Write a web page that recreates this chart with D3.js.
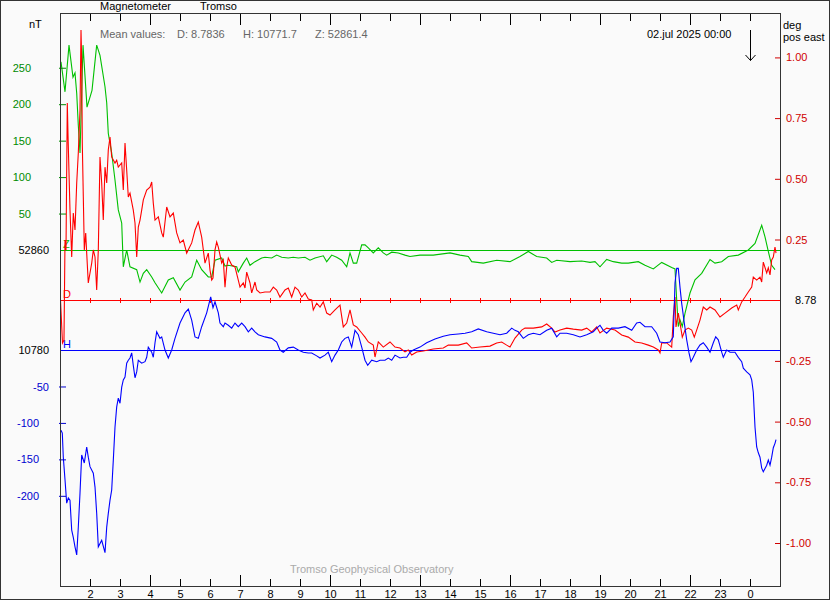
<!DOCTYPE html>
<html><head><meta charset="utf-8">
<script src="https://cdn.jsdelivr.net/npm/d3@7"></script>
<style>
body{margin:0;background:#fafafa;}
svg{display:block;}
text{font-family:"Liberation Sans",Arial,sans-serif;font-size:11px;}
</style></head><body>
<svg id="c" width="830" height="600"></svg>
<script>
// ---- data (time in hours since 01.jul 00:00, deviation from baseline) ----
const hourTicks = d3.range(2, 25);            // 2..24 (24 shown as 0)
const zBase = 52860, hBase = 10780, dBase = 8.78;
const zTicks = [50, 100, 150, 200, 250];
const hTicks = [-50, -100, -150, -200];
const dTicks = [1, 0.75, 0.5, 0.25, -0.25, -0.5, -0.75, -1];
const meanValues = ["D: 8.7836", "H: 10771.7", "Z: 52861.4"];

const zData = [[1.033,258],[1.167,217],[1.30,281],[1.433,237],[1.50,243],[1.557,215],[1.61,171],[1.667,133],[1.767,281],[1.90,196],[2.067,219],[2.223,281],[2.333,267],[2.5,224],[2.557,202],[2.61,160],[2.723,133],[2.833,96],[2.943,55],[3.057,37],[3.11,-23],[3.223,0],[3.333,-23],[3.557,-27],[3.667,-44],[3.777,-32],[3.89,-27],[4.057,-37],[4.167,-45],[4.39,-59],[4.61,-41],[4.777,-38],[5.0,-55],[5.167,-44],[5.39,-37],[5.557,-14],[5.723,-27],[5.943,-37],[6.057,-37],[6.167,-14],[6.39,-11],[6.5,-22],[6.6,-21],[6.89,-23],[6.943,-30],[7.11,-18],[7.223,-11],[7.333,-21],[7.5,-16],[7.723,-11],[7.833,-10],[8.057,-11],[8.223,-7],[8.39,-10],[8.61,-11],[8.777,-10],[8.943,-11],[9.167,-10],[9.333,-14],[9.5,-11],[9.777,-8],[9.89,-16],[10.057,-7],[10.223,-10],[10.39,-14],[10.557,-23],[10.667,-4],[10.777,-18],[10.89,-18],[11.057,7],[11.167,7],[11.277,3],[11.443,-4],[11.61,3],[11.777,-4],[11.89,-7],[12.057,-3],[12.277,-4],[12.5,-7],[12.667,-9],[13.0,-7],[13.443,-7],[14.0,-4],[14.333,-7],[14.61,-9],[14.723,-16],[15.11,-18],[15.557,-14],[16.0,-16],[16.333,-9],[16.61,-2],[16.89,-9],[17.223,-11],[17.39,-17],[17.557,-14],[18.0,-16],[18.39,-15],[18.667,-17],[18.833,-16],[19.0,-23],[19.223,-13],[19.443,-16],[19.723,-18],[19.943,-18],[20.277,-16],[20.5,-21],[20.777,-26],[21.057,-17],[21.39,-24],[21.5,-26],[21.557,-69],[21.61,-105],[21.667,-96],[21.743,-105],[21.833,-87],[22.0,-59],[22.167,-41],[22.39,-32],[22.667,-13],[22.833,-18],[23.057,-16],[23.277,-9],[23.61,-7],[23.943,0],[24.167,9],[24.39,34],[24.5,18],[24.61,-2],[24.723,-21],[24.833,-27]];

const dData = [[1.017,0.00],[1.083,-0.176],[1.133,-0.164],[1.167,0.248],[1.2,0.207],[1.243,0.812],[1.267,0.680],[1.333,0.372],[1.39,0.178],[1.443,0.359],[1.5,0.289],[1.557,0.483],[1.61,0.606],[1.667,0.783],[1.70,1.113],[1.723,0.989],[1.743,0.647],[1.777,0.425],[1.81,0.207],[1.857,0.277],[1.89,0.194],[1.943,0.071],[2.0,0.112],[2.057,0.153],[2.11,0.207],[2.167,0.178],[2.223,0.042],[2.277,0.207],[2.333,0.590],[2.39,0.483],[2.443,0.330],[2.5,0.548],[2.557,0.483],[2.61,0.619],[2.667,0.672],[2.723,0.590],[2.833,0.565],[2.89,0.577],[2.943,0.548],[3.057,0.565],[3.11,0.454],[3.167,0.647],[3.223,0.536],[3.277,0.425],[3.333,0.441],[3.443,0.371],[3.5,0.318],[3.557,0.178],[3.61,0.301],[3.667,0.330],[3.723,0.371],[3.777,0.413],[3.89,0.454],[4.0,0.466],[4.057,0.487],[4.11,0.400],[4.167,0.330],[4.277,0.343],[4.39,0.277],[4.443,0.260],[4.557,0.384],[4.667,0.343],[4.777,0.359],[4.89,0.277],[5.0,0.236],[5.11,0.248],[5.223,0.194],[5.39,0.236],[5.5,0.289],[5.61,0.322],[5.723,0.260],[5.833,0.153],[5.943,0.194],[6.0,0.124],[6.057,0.083],[6.1,0.091],[6.167,0.207],[6.223,0.240],[6.277,0.219],[6.39,0.153],[6.443,0.166],[6.5,0.054],[6.557,0.137],[6.61,0.174],[6.723,0.145],[6.833,0.137],[6.943,0.083],[7.0,0.054],[7.11,0.071],[7.167,0.050],[7.223,0.116],[7.333,0.071],[7.39,0.030],[7.5,0.075],[7.557,0.042],[7.667,0.030],[7.833,0.034],[8.0,0.034],[8.11,0.054],[8.223,0.042],[8.333,0.013],[8.5,0.042],[8.61,0.050],[8.723,0.013],[8.833,0.054],[8.943,0.042],[9.057,0.013],[9.167,0.030],[9.277,0.005],[9.39,0.001],[9.443,-0.040],[9.557,-0.012],[9.667,-0.028],[9.777,-0.007],[9.89,-0.053],[10.0,-0.061],[10.167,-0.040],[10.333,-0.020],[10.443,-0.110],[10.557,-0.094],[10.667,-0.040],[10.777,-0.102],[10.89,-0.110],[11.057,-0.135],[11.167,-0.152],[11.277,-0.172],[11.443,-0.185],[11.5,-0.234],[11.61,-0.172],[11.777,-0.193],[12.0,-0.172],[12.167,-0.193],[12.333,-0.197],[12.5,-0.213],[12.61,-0.205],[12.723,-0.226],[12.89,-0.213],[13.11,-0.209],[13.443,-0.201],[13.777,-0.197],[13.943,-0.185],[14.277,-0.185],[14.557,-0.176],[14.723,-0.197],[15.0,-0.193],[15.333,-0.189],[15.557,-0.176],[15.723,-0.172],[15.89,-0.185],[16.0,-0.193],[16.167,-0.156],[16.39,-0.123],[16.5,-0.115],[16.777,-0.115],[17.057,-0.110],[17.223,-0.098],[17.39,-0.115],[17.5,-0.131],[17.667,-0.123],[17.89,-0.115],[18.11,-0.119],[18.39,-0.123],[18.557,-0.115],[18.723,-0.131],[18.89,-0.110],[19.0,-0.135],[19.223,-0.115],[19.5,-0.123],[19.723,-0.143],[19.943,-0.152],[20.167,-0.172],[20.39,-0.176],[20.61,-0.185],[20.777,-0.193],[20.943,-0.205],[21.0,-0.217],[21.057,-0.176],[21.223,-0.176],[21.39,-0.193],[21.443,-0.069],[21.5,0.013],[21.533,-0.110],[21.61,-0.053],[21.667,-0.094],[21.743,-0.152],[21.833,-0.123],[21.943,-0.115],[22.057,-0.123],[22.143,-0.152],[22.223,-0.123],[22.333,-0.082],[22.443,-0.028],[22.557,-0.040],[22.667,-0.028],[22.833,-0.040],[23.0,-0.069],[23.167,-0.053],[23.39,-0.032],[23.557,-0.020],[23.61,-0.040],[23.723,-0.007],[23.833,0.013],[23.943,0.034],[24.057,0.054],[24.11,0.095],[24.223,0.083],[24.333,0.095],[24.39,0.075],[24.443,0.157],[24.557,0.112],[24.61,0.133],[24.667,0.104],[24.723,0.166],[24.777,0.178],[24.833,0.219],[24.867,0.194]];

const hData = [[1.033,-110],[1.077,-114],[1.11,-147],[1.167,-178],[1.223,-210],[1.277,-203],[1.333,-206],[1.39,-247],[1.443,-257],[1.5,-270],[1.557,-281],[1.61,-243],[1.667,-196],[1.723,-144],[1.81,-155],[1.89,-133],[1.943,-147],[2.0,-160],[2.11,-169],[2.167,-188],[2.223,-224],[2.277,-270],[2.39,-261],[2.5,-278],[2.557,-243],[2.61,-224],[2.667,-206],[2.723,-192],[2.777,-151],[2.833,-106],[2.89,-78],[2.943,-66],[3.0,-73],[3.057,-51],[3.11,-41],[3.167,-37],[3.223,-18],[3.277,-14],[3.333,-11],[3.39,-4],[3.443,-21],[3.5,-38],[3.557,-30],[3.61,-14],[3.723,-18],[3.833,-16],[3.89,-10],[3.943,4],[4.057,-3],[4.11,-10],[4.167,10],[4.223,25],[4.333,16],[4.39,18],[4.5,0],[4.61,-11],[4.723,0],[4.833,16],[5.0,37],[5.167,51],[5.277,56],[5.39,41],[5.5,18],[5.61,16],[5.723,32],[5.89,51],[6.023,73],[6.1,58],[6.167,66],[6.277,51],[6.333,37],[6.443,32],[6.5,37],[6.61,34],[6.723,30],[6.833,37],[6.943,32],[7.057,37],[7.167,32],[7.277,25],[7.39,30],[7.5,25],[7.61,21],[7.833,18],[8.057,16],[8.223,11],[8.333,0],[8.443,-3],[8.61,3],[8.777,4],[8.943,0],[9.11,-3],[9.277,-4],[9.39,-4],[9.557,-8],[9.667,-11],[9.833,-7],[9.943,-3],[10.057,-16],[10.167,-7],[10.277,0],[10.39,11],[10.5,16],[10.61,18],[10.723,4],[10.833,27],[10.943,21],[11.057,4],[11.167,-14],[11.257,-21],[11.39,-14],[11.557,-16],[11.667,-14],[11.833,-14],[11.943,-11],[12.057,-14],[12.167,-7],[12.333,-11],[12.443,-10],[12.557,-10],[12.667,-3],[12.777,0],[13.0,4],[13.223,10],[13.5,15],[13.777,19],[14.0,21],[14.277,22],[14.5,23],[14.723,25],[14.943,29],[15.223,25],[15.443,23],[15.667,21],[15.89,23],[16.057,30],[16.167,27],[16.277,25],[16.443,16],[16.61,21],[16.777,23],[17.0,21],[17.223,27],[17.39,30],[17.557,18],[17.667,23],[17.89,23],[18.11,21],[18.333,18],[18.557,21],[18.777,25],[18.89,30],[19.0,34],[19.11,27],[19.223,23],[19.39,30],[19.61,30],[19.833,32],[20.057,27],[20.223,37],[20.333,38],[20.5,32],[20.723,32],[20.89,23],[21.0,11],[21.167,10],[21.333,11],[21.443,18],[21.5,92],[21.557,112],[21.61,112],[21.667,86],[21.723,64],[21.81,37],[21.89,14],[21.967,-4],[22.033,-16],[22.11,-10],[22.223,0],[22.333,7],[22.443,10],[22.557,4],[22.667,-3],[22.777,10],[22.857,18],[22.943,14],[23.057,-3],[23.11,-10],[23.223,0],[23.333,-3],[23.5,-3],[23.61,-10],[23.723,-16],[23.777,-25],[23.89,-30],[24.0,-34],[24.057,-41],[24.11,-58],[24.133,-78],[24.167,-106],[24.223,-133],[24.277,-141],[24.333,-147],[24.39,-162],[24.443,-167],[24.557,-158],[24.61,-151],[24.667,-158],[24.723,-147],[24.777,-134],[24.833,-128],[24.867,-123]];

// ---- layout ----
const L = 60, R = 781, T = 13, B = 586;
const svg = d3.select("#c");
const GREEN = "#00c000", RED = "#ff0000", BLUE = "#0000ff";
const GTXT = "#008a00", RTXT = "#d00000", BTXT = "#0000d0";
const FONT = "Liberation Sans, Arial, sans-serif";

const x = d3.scaleLinear().domain([1, 25.0333]).range([L, R]);
const yZ = d3.scaleLinear().domain([-460.9, 325.1]).range([B, T]);
const yH = d3.scaleLinear().domain([-323.7, 462.3]).range([B, T]);
const yD = d3.scaleLinear().domain([-1.1771, 1.1829]).range([B, T]);

// outer border
svg.append("rect").attr("x",0.5).attr("y",0.5).attr("width",829).attr("height",599)
  .attr("fill","#fafafa").attr("stroke","#333");

// baselines
const by = s => Math.round(s(0)) + 0.5;
svg.append("line").attr("x1",L).attr("x2",R).attr("y1",by(yZ)).attr("y2",by(yZ)).attr("stroke",GREEN);
svg.append("line").attr("x1",L).attr("x2",R).attr("y1",by(yD)).attr("y2",by(yD)).attr("stroke",RED);
svg.append("line").attr("x1",L).attr("x2",R).attr("y1",by(yH)).attr("y2",by(yH)).attr("stroke",BLUE);
// hour ticks on D baseline
svg.append("g").selectAll("line").data(hourTicks).join("line")
  .attr("x1",d=>Math.round(x(d))+0.5).attr("x2",d=>Math.round(x(d))+0.5)
  .attr("y1",Math.round(yD(0))-2).attr("y2",Math.round(yD(0))+3).attr("stroke",RED);
// baseline letters
svg.append("text").attr("x",63).attr("y",Math.round(yZ(0))-2).attr("fill",GREEN).text("Z");
svg.append("text").attr("x",63).attr("y",Math.round(yD(0))-2).attr("fill",RED).text("D");
svg.append("text").attr("x",63).attr("y",Math.round(yH(0))-2).attr("fill",BLUE).text("H");

// series
const mk = ys => d3.line().x(d=>x(d[0])).y(d=>ys(d[1]));
svg.append("path").datum(zData).attr("d",mk(yZ)).attr("fill","none").attr("stroke",GREEN).attr("stroke-width",1.1);
svg.append("path").datum(dData).attr("d",mk(yD)).attr("fill","none").attr("stroke",RED).attr("stroke-width",1.1);
svg.append("path").datum(hData).attr("d",mk(yH)).attr("fill","none").attr("stroke",BLUE).attr("stroke-width",1.1);

// bottom axis
const gB = svg.append("g").attr("transform",`translate(0,${B})`)
  .call(d3.axisBottom(x).tickValues(hourTicks).tickSize(-7).tickPadding(4).tickFormat(d=>String(d%24)));
gB.select(".domain").remove();
gB.selectAll(".tick line").attr("y2",d=>((d-1)%3===0)?-11:-7).attr("stroke","#000");
gB.selectAll("text").attr("font-size",11).attr("fill","#000").attr("font-family",FONT);
// top axis
const gT = svg.append("g").attr("transform",`translate(0,${T})`)
  .call(d3.axisTop(x).tickValues(hourTicks).tickSize(-8).tickFormat(""));
gT.select(".domain").remove();
gT.selectAll(".tick line").attr("y2",d=>((d-1)%3===0)?12:8).attr("stroke","#000");

// left axis: Z ticks
const gZ = svg.append("g").attr("transform",`translate(${L},0)`)
  .call(d3.axisRight(yZ).tickValues(zTicks).tickSize(6).tickFormat(d=>d));
gZ.select(".domain").remove();
gZ.selectAll(".tick line").attr("stroke",GTXT).attr("x1",-1);
gZ.selectAll("text").attr("x",-29).attr("text-anchor","end").attr("fill",GTXT)
  .attr("font-size",11).attr("font-family",FONT);
// left axis: H ticks
const gH = svg.append("g").attr("transform",`translate(${L},0)`)
  .call(d3.axisRight(yH).tickValues(hTicks).tickSize(6).tickFormat(d=>String(d)));
gH.select(".domain").remove();
gH.selectAll(".tick line").attr("stroke",BTXT).attr("x1",-1);
gH.selectAll("text").attr("x",d=>d===-50?-27:-43).attr("text-anchor","start").attr("fill",BTXT)
  .attr("font-size",11).attr("font-family",FONT);
// baseline values on left
svg.append("text").attr("x",49).attr("y",yZ(0)+4).attr("text-anchor","end").text(zBase);
svg.append("text").attr("x",49).attr("y",yH(0)+4).attr("text-anchor","end").text(hBase);

// right axis: D ticks
const gD = svg.append("g").attr("transform",`translate(${R},0)`)
  .call(d3.axisLeft(yD).tickValues(dTicks).tickSize(6).tickFormat(d=>d.toFixed(2)));
gD.select(".domain").remove();
gD.selectAll(".tick line").attr("stroke",RTXT);
gD.selectAll("text").attr("x",5).attr("text-anchor","start").attr("fill",RTXT)
  .attr("font-size",11).attr("font-family",FONT);
svg.append("text").attr("x",795).attr("y",yD(0)+4).text(dBase.toFixed(2));

// frame
svg.append("rect").attr("x",L+0.5).attr("y",T+0.5).attr("width",R-L-1).attr("height",B-T)
  .attr("fill","none").attr("stroke","#333");

// texts
svg.append("text").attr("x",100).attr("y",10).text("Magnetometer");
svg.append("text").attr("x",200).attr("y",10).text("Tromso");
svg.append("text").attr("x",29).attr("y",28).text("nT");
svg.append("text").attr("x",100).attr("y",38).attr("fill","#666").text("Mean values:");
[177,243,315].forEach((px,i)=>svg.append("text").attr("x",px).attr("y",38).attr("fill","#666").text(meanValues[i]));
svg.append("text").attr("x",647).attr("y",38).text("02.jul 2025 00:00");
svg.append("text").attr("x",783).attr("y",29).text("deg");
svg.append("text").attr("x",783).attr("y",41).text("pos east");
svg.append("text").attr("x",290).attr("y",573).attr("fill","#aaa").text("Tromso Geophysical Observatory");
// arrow at 00:00
const ax = Math.round(x(24))+0.5;
svg.append("path").attr("d",`M${ax},30V60.5M${ax-5},55L${ax},60.5L${ax+5},55`).attr("fill","none").attr("stroke","#000");
</script></body></html>
